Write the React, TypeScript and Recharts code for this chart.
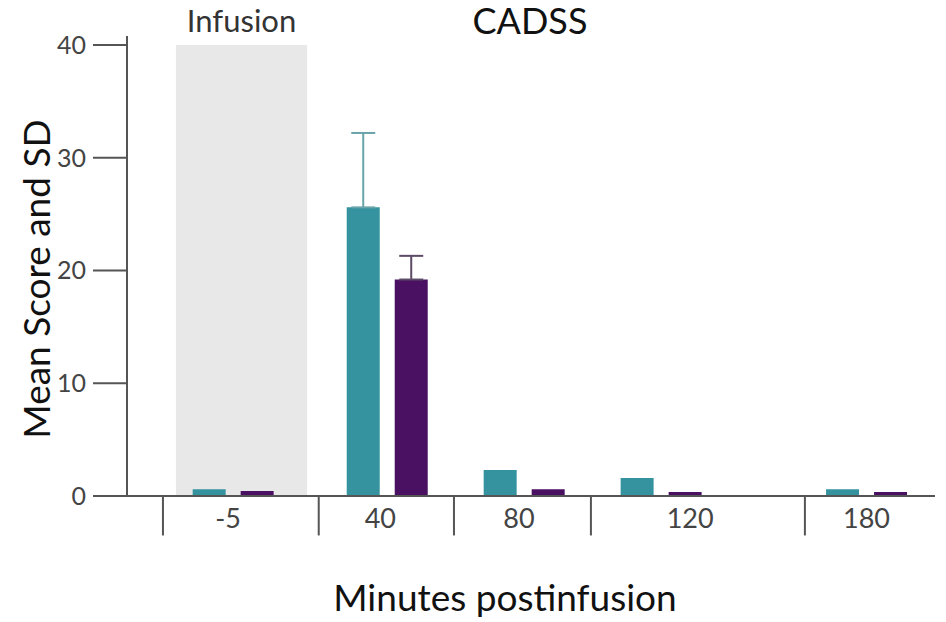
import React from "react"
import { BarChart, Bar, XAxis, YAxis, ErrorBar, ReferenceArea, ReferenceLine } from "recharts"

const times = [-5, 40, 80, 120, 180]
const tickLabels = ["-5", "40", "80", "120", "180"]
const tickLabelPos = [-6.5, 38, 78.5, 128.5, 180]
const separators = [-25.5, 20, 59.5, 99.5, 162]
const tealMeans = [0.6, 25.6, 2.3, 1.6, 0.6]
const purpleMeans = [0.45, 19.2, 0.6, 0.35, 0.35]
const tealSD = [null, 6.6, null, null, null]
const purpleSD = [null, 2.1, null, null, null]
const yTicks = [0, 10, 20, 30, 40]
const infusion = [-21.7, 16.6]

const TEAL = "#35939f"
const PURPLE = "#4a1062"
const AXIS = "#555"
const FONT = "Lato, 'Open Sans', sans-serif"

const data = times.map((t, i) => ({
  time: t,
  teal: tealMeans[i],
  purple: purpleMeans[i],
  tealErr: tealSD[i] == null ? null : [0, tealSD[i]],
  purpleErr: purpleSD[i] == null ? null : [0, purpleSD[i]],
}))

export default function App() {
  return (
    <div style={{ position: "absolute", left: 0, top: 0, width: 946, height: 622, background: "#fff", fontFamily: FONT }}>
      <BarChart
        width={946}
        height={622}
        data={data}
        margin={{ top: 36, right: 11, left: 0, bottom: 86 }}
        barSize={33}
        barGap={15}
      >
        <ReferenceArea
          x1={infusion[0]}
          x2={infusion[1]}
          y1={0}
          y2={40}
          fill="#e8e8e8"
          fillOpacity={1}
          stroke="none"
          label={{ value: "Infusion", position: "top", offset: 13, fill: "#333", fontSize: 31, fontFamily: FONT }}
        />
        {separators.map((s) => (
          <ReferenceLine
            key={s}
            segment={[{ x: s, y: 0 }, { x: s, y: -3.5 }]}
            ifOverflow="visible"
            stroke={AXIS}
            strokeWidth={2}
          />
        ))}
        <XAxis
          dataKey="time"
          type="number"
          domain={[-36, 200]}
          allowDataOverflow
          ticks={tickLabelPos}
          tickFormatter={(_v: number, i: number) => tickLabels[i]}
          interval={0}
          axisLine={{ stroke: AXIS, strokeWidth: 2 }}
          tickLine={false}
          tickSize={0}
          tickMargin={13}
          height={40}
          tick={{ fill: "#444", fontSize: 27, fontFamily: FONT }}
        />
        <YAxis
          domain={[0, 40.8]}
          ticks={yTicks}
          allowDataOverflow
          width={127}
          tickSize={34}
          tickMargin={7}
          axisLine={{ stroke: AXIS, strokeWidth: 2 }}
          tickLine={{ stroke: AXIS, strokeWidth: 2 }}
          tick={{ fill: "#444", fontSize: 25, fontFamily: FONT }}
        />
        <Bar dataKey="teal" fill={TEAL} isAnimationActive={false}>
          <ErrorBar dataKey="tealErr" direction="y" width={12} stroke="#6aa4aa" strokeWidth={2} />
        </Bar>
        <Bar dataKey="purple" fill={PURPLE} isAnimationActive={false}>
          <ErrorBar dataKey="purpleErr" direction="y" width={12} stroke="#5c4b66" strokeWidth={2} />
        </Bar>
      </BarChart>
      <div style={{ position: "absolute", left: 430, top: 4, width: 200, lineHeight: "32px", textAlign: "center", fontSize: 36, color: "#111" }}>
        CADSS
      </div>
      <div style={{ position: "absolute", left: 255, top: 574, width: 500, textAlign: "center", fontSize: 37, color: "#111" }}>
        Minutes postinfusion
      </div>
      <div
        style={{
          position: "absolute",
          left: 35,
          top: 279,
          width: 400,
          textAlign: "center",
          fontSize: 37,
          color: "#111",
          transform: "translate(-50%, -50%) rotate(-90deg)",
          whiteSpace: "nowrap",
        }}
      >
        Mean Score and SD
      </div>
    </div>
  )
}
